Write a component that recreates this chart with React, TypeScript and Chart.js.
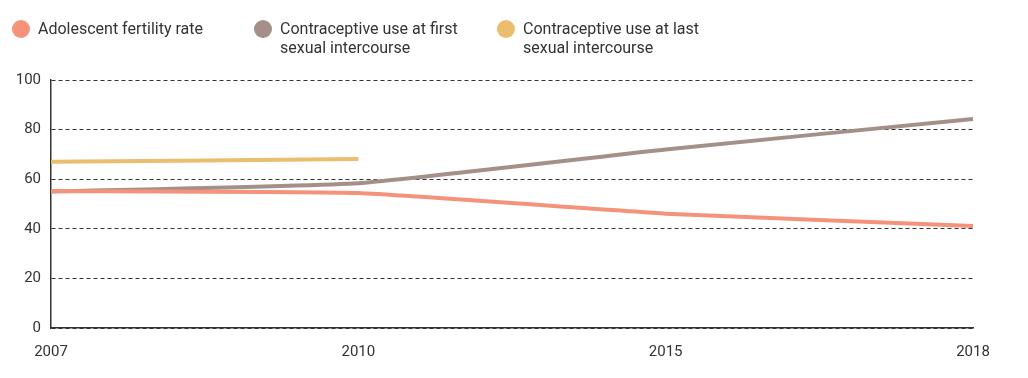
import React, { useEffect, useRef } from "react";
import { Chart, registerables } from "chart.js";

Chart.register(...registerables);

const years = ["2007", "2010", "2015", "2018"];
const fertilityRate = [55.2, 54.4, 46.1, 41.1];
const firstIntercourse = [55.0, 58.4, 72.0, 84.3];
const lastIntercourse: (number | null)[] = [67.0, 68.1, null, null];

const seriesNames = [
  ["Adolescent fertility rate"],
  ["Contraceptive use at first", "sexual intercourse"],
  ["Contraceptive use at last", "sexual intercourse"],
];
const seriesColors = ["#F5937A", "#A58F89", "#EBBD6E"];
const legendLefts = [4, 246, 489];

const FONT = "Roboto, 'Noto Sans', sans-serif";
const TEXT = "#333333";

export default function App() {
  const canvasRef = useRef<HTMLCanvasElement | null>(null);

  useEffect(() => {
    if (!canvasRef.current) return;
    const chart = new Chart(canvasRef.current, {
      type: "line",
      data: {
        labels: years,
        datasets: [
          { label: seriesNames[0].join(" "), data: fertilityRate },
          { label: seriesNames[1].join(" "), data: firstIntercourse },
          { label: seriesNames[2].join(" "), data: lastIntercourse },
        ].map((d, i) => ({
          ...d,
          borderColor: seriesColors[i],
          backgroundColor: seriesColors[i],
          borderWidth: 4,
          pointRadius: 0,
          pointHoverRadius: 0,
          tension: 0.12,
          fill: false,
          spanGaps: false,
        })),
      },
      options: {
        animation: false,
        responsive: false,
        maintainAspectRatio: false,
        layout: { padding: { top: 72, right: 47, left: 0, bottom: 0 } },
        plugins: {
          legend: { display: false },
          tooltip: { enabled: false },
        },
        scales: {
          x: {
            type: "category",
            offset: false,
            grid: { display: true, drawOnChartArea: false, drawTicks: false },
            border: { display: true, color: "#333333", width: 1.5 },
            ticks: {
              color: TEXT,
              font: { family: FONT, size: 15 },
              padding: 15,
              maxRotation: 0,
              autoSkip: false,
            },
            afterFit: (scale: any) => {
              scale.height = 42;
            },
          },
          y: {
            min: 0,
            max: 100,
            grid: { color: "#333333", lineWidth: 1, drawTicks: false },
            border: { display: true, color: "#333333", width: 1.5, dash: [4, 3] },
            ticks: {
              stepSize: 20,
              color: TEXT,
              font: { family: FONT, size: 15 },
              padding: 10,
            },
            afterFit: (scale: any) => {
              scale.width = 43;
            },
          },
        },
      } as any,
    });
    return () => chart.destroy();
  }, []);

  return (
    <div style={{ position: "relative", width: 1012, height: 362 }}>
      <canvas
        ref={canvasRef}
        width={1012}
        height={362}
        style={{ position: "absolute", left: 0, top: 0, width: 1012, height: 362 }}
      />
      {seriesNames.map((lines, i) => (
        <div
          key={i}
          style={{
            position: "absolute",
            left: legendLefts[i],
            top: 11,
            display: "flex",
            alignItems: "flex-start",
            fontFamily: FONT,
            fontSize: 16,
            lineHeight: "19px",
            color: TEXT,
          }}
        >
          <span
            style={{
              display: "inline-block",
              width: 18,
              height: 18,
              borderRadius: "50%",
              background: seriesColors[i],
              marginTop: 1,
              marginRight: 8,
              flex: "none",
            }}
          />
          <span>
            {lines.map((t, j) => (
              <div key={j}>{t}</div>
            ))}
          </span>
        </div>
      ))}
    </div>
  );
}
